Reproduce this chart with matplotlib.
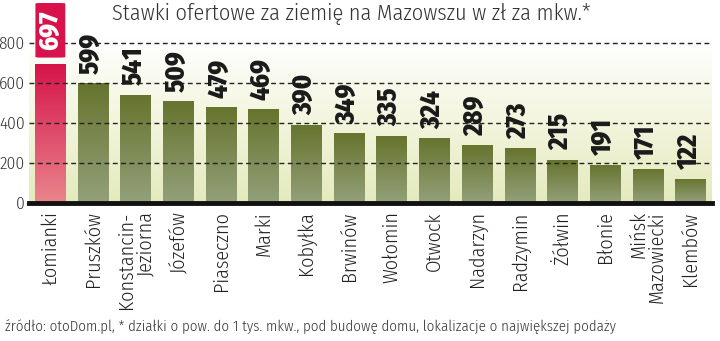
import numpy as np
import matplotlib
matplotlib.use("Agg")
from matplotlib import pyplot as plt
from matplotlib.colors import LinearSegmentedColormap
from matplotlib.patches import FancyBboxPatch

# price per square metre of land, zl
towns = ["Łomianki", "Pruszków", "Konstancin-\nJeziorna", "Józefów", "Piaseczno",
         "Marki", "Kobyłka", "Brwinów", "Wołomin", "Otwock", "Nadarzyn",
         "Radzymin", "Żółwin", "Błonie", "Mińsk\nMazowiecki", "Klembów"]
prices = [697, 599, 541, 509, 479, 469, 390, 349, 335, 324, 289, 273, 215, 191, 171, 122]
yticks = [0, 200, 400, 600, 800]

title = "Stawki ofertowe za ziemię na Mazowszu w zł za mkw.*"
source = ("źródło: otoDom.pl, * działki o pow. do 1 tys. mkw., pod budowę domu, "
          "lokalizacje o największej podaży")

narrow = dict(family=["Fira Sans Condensed", "DejaVu Sans"], fontweight=300)
heavy = dict(family=["Fira Sans Condensed", "DejaVu Sans"], fontweight=800)

green_cm = LinearSegmentedColormap.from_list("g", ["#94a07a", "#66742e"])
red_cm = LinearSegmentedColormap.from_list("r", ["#e9858c", "#d6134a"])
bg_cm = LinearSegmentedColormap.from_list("bg", ["#e4eabd", "#f3f5de", "#ffffff"])

fig = plt.figure(figsize=(7.2, 3.41), dpi=100)
ax = fig.add_axes([29 / 720, 1 - 203 / 341, 683 / 720, 160 / 341])

# background gradient behind the plot
grad = np.linspace(0, 1, 256).reshape(-1, 1)
ax.imshow(grad, cmap=bg_cm, origin="lower", aspect="auto",
          extent=[-0.5, len(towns) - 0.5, 0, 830], zorder=0, clip_on=False)

x = np.arange(len(towns))
bars = ax.bar(x, prices, width=0.72, color="none", zorder=1)
for i, b in enumerate(bars):
    cm = red_cm if i == 0 else green_cm
    im = ax.imshow(grad, cmap=cm, origin="lower", aspect="auto",
                   extent=[b.get_x(), b.get_x() + b.get_width(), 0, b.get_height()],
                   zorder=1)
    im.set_clip_path(b)

ax.set_xlim(-0.5, len(towns) - 0.5)
ax.set_ylim(0, 800)

for v in yticks[1:]:
    ax.axhline(v, color="#222222", lw=1, ls=(0, (3.5, 2.5)), zorder=2, clip_on=False)
ax.axhline(0, color="#111111", lw=3.5, zorder=3, clip_on=False)

# value labels, the top one in a red tag
for i, v in enumerate(prices):
    if i == 0:
        box = FancyBboxPatch((i - 0.35, v + 30), 0.7, 273,
                             boxstyle="round,pad=0,rounding_size=0.12",
                             mutation_aspect=25, fc="#d8124a", ec="none",
                             clip_on=False, zorder=4)
        ax.add_patch(box)
        ax.text(i, v + 168, str(v), rotation=90, ha="center", va="center",
                fontsize=19, color="white", zorder=5, clip_on=False, **heavy)
    else:
        ax.text(i - 0.04, v + 48, str(v), rotation=90, ha="center", va="bottom",
                fontsize=19, color="#1a1a1a", zorder=5, **heavy)

ax.set_yticks(yticks)
ax.set_yticklabels([str(t) for t in yticks], fontsize=12.5, color="#333333", **narrow)
ax.tick_params(axis="y", length=0, pad=3)
ax.set_xticks(x)
ax.set_xticklabels(towns, rotation=90, fontsize=14.5, color="#222222",
                   ha="center", va="top", multialignment="right", linespacing=0.95,
                   **narrow)
ax.tick_params(axis="x", length=0, pad=6)
for s in ax.spines.values():
    s.set_visible(False)

fig.text(112 / 720, 1 - 14 / 341, title, fontsize=16, color="#333333",
         ha="left", va="center", **narrow)
fig.text(5 / 720, 1 - 327 / 341, source, fontsize=10.7, color="#333333",
         ha="left", va="center", **narrow)

fig.savefig("out.png", dpi=100)
